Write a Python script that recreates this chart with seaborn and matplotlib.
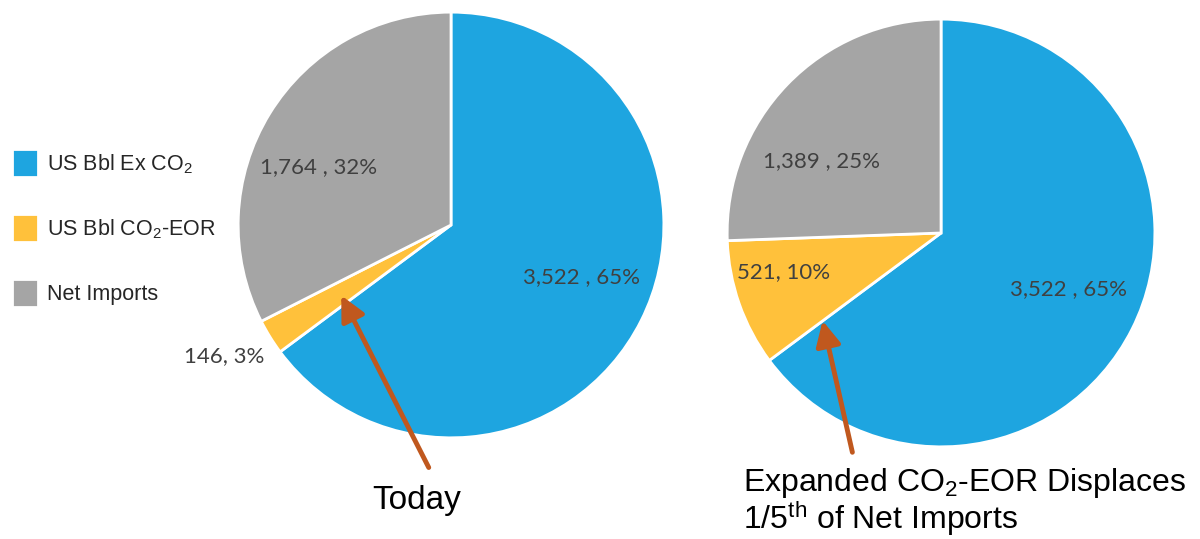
import matplotlib
matplotlib.use("Agg")
import matplotlib.pyplot as plt
from matplotlib.patches import FancyArrowPatch
import seaborn as sns

sns.set_theme(style="white")
plt.rcParams['font.family'] = ['Liberation Sans', 'DejaVu Sans']
plt.rcParams['mathtext.fontset'] = 'custom'
plt.rcParams['mathtext.rm'] = 'Liberation Sans'
plt.rcParams['mathtext.it'] = 'Liberation Sans'

# data
categorias = ['US Bbl Ex CO$_2$', 'US Bbl CO$_2$-EOR', 'Net Imports']
hoy = [3522, 146, 1764]
expandido = [3522, 521, 1389]
etiquetas_hoy = ['3,522 , 65%', '146, 3%', '1,764 , 32%']
etiquetas_exp = ['3,522 , 65%', '521, 10%', '1,389 , 25%']
colores = sns.color_palette(['#1EA5E0', '#FFC13B', '#A5A5A5'])

fig = plt.figure(figsize=(12, 5.39), dpi=100)

def dibuja_pie(rect, valores, etiquetas, pos_etiquetas):
    ax = fig.add_axes(rect)
    wedges, _ = ax.pie(valores, colors=colores, startangle=90, counterclock=False,
                       radius=1, wedgeprops=dict(edgecolor='white', linewidth=2))
    for txt, (x, y) in zip(etiquetas, pos_etiquetas):
        ax.text(x, y, txt, ha='center', va='center', fontsize=16,
                color='#404040', family=['Lato', 'DejaVu Sans'])
    ax.set_xlim(-1.01, 1.01)
    ax.set_ylim(-1.01, 1.01)
    ax.set_aspect('equal')
    ax.axis('off')
    return ax, wedges

ax1, wedges = dibuja_pie([0.1967, 0.1837, 0.3583, 0.7978], hoy, etiquetas_hoy,
                         [(0.614, -0.247), (-1.065, -0.614), (-0.623, 0.27)])
ax2, _ = dibuja_pie([0.6042, 0.167, 0.36, 0.8015], expandido, etiquetas_exp,
                    [(0.597, -0.264), (-0.736, -0.185), (-0.56, 0.338)])

# flechas
flecha = dict(arrowstyle='-|>,head_length=1.0,head_width=0.5', color='#C0581E', lw=3.5)
fig.add_artist(FancyArrowPatch((430 / 1200, 1 - 470 / 539), (340 / 1200, 1 - 293 / 539),
                               transform=fig.transFigure, mutation_scale=15, **flecha))
fig.add_artist(FancyArrowPatch((853 / 1200, 1 - 455 / 539), (822 / 1200, 1 - 318 / 539),
                               transform=fig.transFigure, mutation_scale=15, **flecha))

fig.text(417 / 1200, 1 - 500 / 539, 'Today', ha='center', va='center', fontsize=24, color='black')
fig.text(743 / 1200, 1 - 502 / 539,
         'Expanded CO$_2$-EOR Displaces\n1/5$^{\\mathrm{th}}$ of Net Imports',
         ha='left', va='center', fontsize=23, color='black', linespacing=1.0)

fig.legend(wedges, categorias, loc='center left', bbox_to_anchor=(0.0, 1 - 228 / 539),
           frameon=False, fontsize=15.5, handlelength=1.2, handleheight=1.65,
           labelspacing=1.7, handletextpad=0.45, borderaxespad=0.15)

fig.savefig('out.png', dpi=100)
